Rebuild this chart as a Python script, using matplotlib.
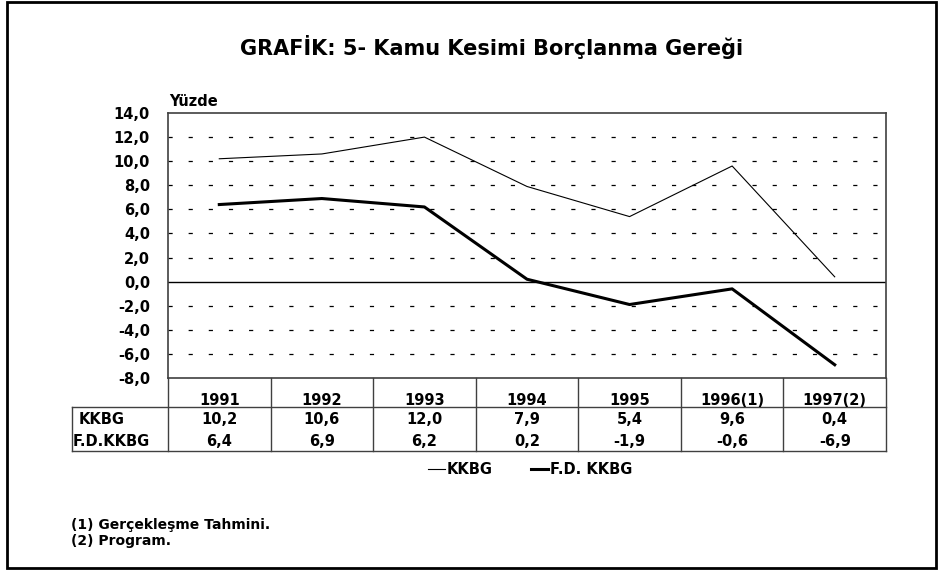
import matplotlib
matplotlib.use("Agg")
import matplotlib.pyplot as plt
from matplotlib.lines import Line2D
from matplotlib.patches import Rectangle
from matplotlib.transforms import blended_transform_factory

plt.rcParams['font.family'] = ['DejaVu Sans']
plt.rcParams['font.weight'] = 'bold'
plt.rcParams['lines.scale_dashes'] = False

# data
years = ['1991', '1992', '1993', '1994', '1995', '1996(1)', '1997(2)']
kkbg = [10.2, 10.6, 12.0, 7.9, 5.4, 9.6, 0.4]
fd_kkbg = [6.4, 6.9, 6.2, 0.2, -1.9, -0.6, -6.9]
row_labels = ['KKBG', 'F.D.KKBG']
yticks = [14, 12, 10, 8, 6, 4, 2, 0, -2, -4, -6, -8]

W, H = 938, 570
fig = plt.figure(figsize=(W / 100, H / 100), dpi=100)
fy = lambda py: 1 - py / H
fx = lambda px: px / W
FS = 10.5

ax = fig.add_axes([fx(168), fy(378), fx(886) - fx(168), fy(113) - fy(378)])
x = list(range(len(years)))

ax.set_xlim(-0.5, len(years) - 0.5)
ax.set_ylim(-8, 14)
for v in yticks[1:-1]:
    if v == 0:
        ax.axhline(0, color='black', lw=1.0, zorder=1)
    else:
        ax.axhline(v, color='black', lw=0.9, linestyle=(0, (3, 11.5)), zorder=1)

ax.plot(x, kkbg, color='black', lw=0.8, zorder=3)
ax.plot(x, fd_kkbg, color='black', lw=2.2, zorder=3)

ax.set_yticks(yticks)
ax.set_yticklabels([f"{v:.1f}".replace('.', ',') for v in yticks],
                   fontsize=FS, fontweight='bold')
ax.tick_params(axis='y', length=0, pad=13)
ax.set_xticks([])
for s in ax.spines.values():
    s.set_color('#404040')
    s.set_linewidth(1.2)

fig.text(fx(169), fy(101), 'Yüzde', fontsize=FS, fontweight='bold', va='center', ha='left')

# data table under the plot
tr = blended_transform_factory(ax.transData, fig.transFigure)
ftr = fig.transFigure
y_top, y_mid, y_bot = fy(378), fy(407), fy(451)
lc = '#404040'
for k in range(len(years) + 1):
    xe = k - 0.5
    fig.add_artist(Line2D([xe, xe], [y_top, y_bot], transform=tr, color=lc, lw=1.0))
fig.add_artist(Line2D([fx(72), fx(886)], [y_mid, y_mid], transform=ftr, color=lc, lw=1.0))
fig.add_artist(Line2D([fx(72), fx(886)], [y_bot, y_bot], transform=ftr, color=lc, lw=1.0))
fig.add_artist(Line2D([fx(72), fx(72)], [y_mid, y_bot], transform=ftr, color=lc, lw=1.0))

for xi, yr in zip(x, years):
    fig.text(xi, fy(405), yr, transform=tr, ha='center', va='baseline',
             fontsize=FS, fontweight='bold')
for row, (lab, vals) in enumerate(zip(row_labels, [kkbg, fd_kkbg])):
    yc = fy(420 + 21.5 * row)
    fig.text(fx(73 if row else 79), yc, lab, transform=ftr, ha='left', va='center',
             fontsize=FS, fontweight='bold')
    for xi, v in zip(x, vals):
        fig.text(xi, yc, f"{v:.1f}".replace('.', ','), transform=tr,
                 ha='center', va='center', fontsize=FS, fontweight='bold')

# legend
handles = [Line2D([], [], color='black', lw=0.8), Line2D([], [], color='black', lw=2.2)]
fig.legend(handles, ['KKBG', 'F.D. KKBG'], loc='center', bbox_to_anchor=(fx(530), fy(470)),
           ncol=2, frameon=False, handlelength=1.2, handletextpad=0.12,
           columnspacing=2.6, prop={'size': FS, 'weight': 'bold'})

fig.text(fx(492), fy(47), 'GRAFİK: 5- Kamu Kesimi Borçlanma Gereği',
         ha='center', va='center', fontsize=15, fontweight='bold')
fig.text(fx(71), fy(525), '(1) Gerçekleşme Tahmini.', ha='left', va='center',
         fontsize=10, fontweight='bold')
fig.text(fx(71), fy(541), '(2) Program.', ha='left', va='center',
         fontsize=10, fontweight='bold')

fig.add_artist(Rectangle((fx(7), fy(568)), fx(936) - fx(7), fy(2) - fy(568),
                         transform=ftr, fill=False, edgecolor='black', lw=2.0))

fig.savefig('out.png', dpi=100)
